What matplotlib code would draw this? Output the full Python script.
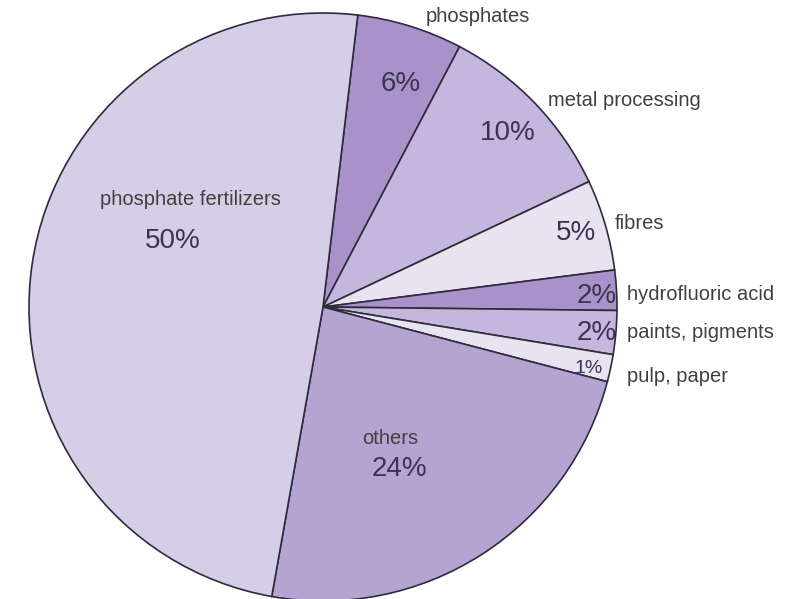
import matplotlib
matplotlib.use("Agg")
import matplotlib.pyplot as plt

# shares, clockwise from the top
sectors = ["phosphates", "metal processing", "fibres", "hydrofluoric acid",
           "paints, pigments", "pulp, paper", "others", "phosphate fertilizers"]
shares = [5.8, 10.3, 5.0, 2.2, 2.4, 1.5, 23.7, 49.1]
pct_labels = ["6%", "10%", "5%", "2%", "2%", "1%", "24%", "50%"]
colors = ["#a892c9", "#c4b6dc", "#e8e3f1", "#a892c9",
          "#c4b6dc", "#e8e3f1", "#b5a3d2", "#d6cde6"]

W, H = 800, 599
cx, cy, R = 323, 307, 294

def px(x, y):
    # image pixel -> data coords (pie radius = 1)
    return (x - cx) / R, (cy - y) / R

fig = plt.figure(figsize=(W / 100, H / 100), dpi=100)
ax = fig.add_axes([0, 0, 1, 1])
ax.pie(shares, colors=colors, startangle=90 - 6.8, counterclock=False,
       radius=1, wedgeprops=dict(edgecolor="#2f2a3c", linewidth=1.2))
ax.set_xlim(-cx / R, (W - cx) / R)
ax.set_ylim(-(H - cy) / R, cy / R)
ax.set_aspect("equal")
ax.axis("off")

name_c = "#404040"
pct_c = "#3b3450"
fn = "Liberation Sans"

# category names
name_pos = {
    "phosphates": ((478, 17), "center"),
    "metal processing": ((548, 101), "left"),
    "fibres": ((615, 224), "left"),
    "hydrofluoric acid": ((627, 295), "left"),
    "paints, pigments": ((627, 333), "left"),
    "pulp, paper": ((627, 377), "left"),
    "others": ((390, 439), "center"),
    "phosphate fertilizers": ((190, 200), "center"),
}
for name in sectors:
    (x, y), ha = name_pos[name]
    ax.text(*px(x, y), name, ha=ha, va="center", fontsize=14.5,
            color=name_c, family=fn)

# percentage labels
pct_pos = [(401, 84), (508, 133), (576, 233), (597, 296),
           (597, 333), (589, 369), (399, 469), (173, 241)]
for lab, (x, y) in zip(pct_labels, pct_pos):
    fs = 14 if lab == "1%" else 20
    ax.text(*px(x, y), lab, ha="center", va="center", fontsize=fs,
            color=pct_c, family=fn)

fig.savefig("out.png", dpi=100, facecolor="white")
